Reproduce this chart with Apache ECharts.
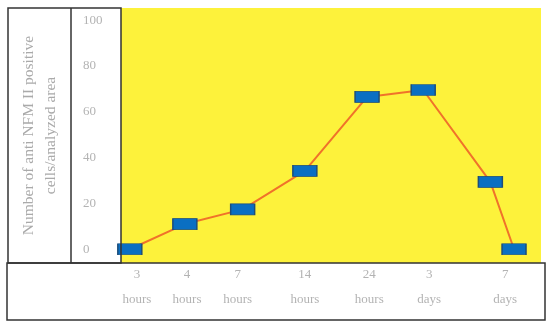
<!DOCTYPE html>
<html>
<head>
<meta charset="utf-8">
<script src="https://cdn.jsdelivr.net/npm/echarts@6/dist/echarts.min.js"></script>
<style>
  html, body { margin: 0; padding: 0; background: #fff; }
  #chart { width: 550px; height: 328px; }
</style>
</head>
<body>
<div id="chart"></div>
<script>
// time points, placed on a slot axis (0 = 3 hours)
const xSlots = [0, 1, 2.05, 3.18, 4.31, 5.33, 6.55, 6.98]
const values = [0, 11, 17.4, 34.2, 66.5, 69.5, 29.4, 0]

// x tick labels and where they sit on the slot axis
const xLabels = ['3\nhours', '4\nhours', '7\nhours', '14\nhours', '24\nhours', '3\ndays', '7\ndays']
const xLabelSlots = [0.13, 1.04, 1.96, 3.18, 4.35, 5.44, 6.82]

const yTicks = [0, 20, 40, 60, 80, 100]

const chart = echarts.init(document.getElementById('chart'))

chart.setOption({
  animation: false,
  grid: {
    left: 121,
    right: 9,
    top: 8,
    bottom: 65,
    show: true,
    backgroundColor: '#FDF23B',
    borderWidth: 0
  },
  xAxis: {
    type: 'value',
    min: -0.16,
    max: 7.47,
    axisLine: { show: false },
    axisTick: { show: false },
    splitLine: { show: false },
    axisLabel: {
      customValues: xLabelSlots,
      formatter: function (v) {
        let best = 0
        xLabelSlots.forEach(function (s, i) {
          if (Math.abs(s - v) < Math.abs(xLabelSlots[best] - v)) best = i
        })
        return xLabels[best]
      },
      color: '#b3b3b3',
      fontFamily: 'Liberation Serif',
      fontSize: 13,
      lineHeight: 25,
      margin: -1
    }
  },
  yAxis: {
    type: 'value',
    min: -6,
    max: 105.3,
    name: 'Number of anti NFM II positive\ncells/analyzed area',
    nameLocation: 'middle',
    nameRotate: 90,
    nameGap: 59,
    nameTextStyle: {
      color: '#aaaaaa',
      fontFamily: 'Liberation Serif',
      fontSize: 15.5,
      lineHeight: 22
    },
    axisLine: { show: false },
    axisTick: { show: false },
    splitLine: { show: false },
    axisLabel: {
      customValues: yTicks,
      color: '#b3b3b3',
      fontFamily: 'Liberation Serif',
      fontSize: 13,
      align: 'left',
      margin: 38
    }
  },
  series: [
    {
      type: 'line',
      data: xSlots.map(function (x, i) { return [x, values[i]] }),
      symbol: 'rect',
      symbolSize: [24, 11],
      clip: false,
      lineStyle: { color: '#F0722A', width: 2 },
      itemStyle: { color: '#0A6FC2', borderColor: '#1d4d7a', borderWidth: 1 }
    }
  ],
  graphic: [
    {
      type: 'rect',
      z: 100,
      shape: { x: 8, y: 8, width: 113, height: 255 },
      style: { fill: 'none', stroke: '#333', lineWidth: 1.5 }
    },
    {
      type: 'line',
      z: 100,
      shape: { x1: 71, y1: 8, x2: 71, y2: 263 },
      style: { stroke: '#333', lineWidth: 1.5 }
    },
    {
      type: 'rect',
      z: 100,
      shape: { x: 7, y: 263, width: 538, height: 57 },
      style: { fill: 'none', stroke: '#333', lineWidth: 1.5 }
    }
  ]
})
</script>
</body>
</html>
